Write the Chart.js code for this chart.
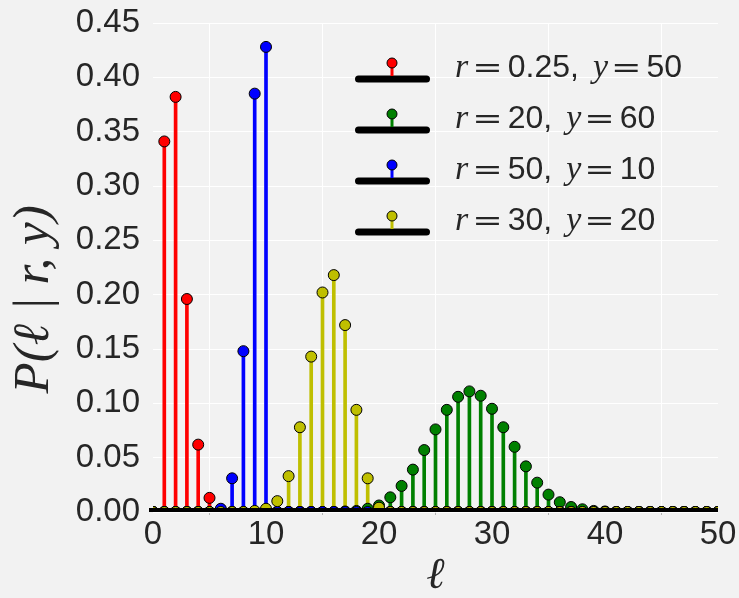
<!DOCTYPE html>
<html>
<head>
<meta charset="utf-8">
<script src="https://cdn.jsdelivr.net/npm/chart.js@4.4.1/dist/chart.umd.min.js"></script>
<style>
  html, body { margin: 0; padding: 0; background: #f2f2f2; }
  canvas { display: block; }
</style>
</head>
<body>
<canvas id="canvas" width="739" height="598"></canvas>
<script>
// ell = 0..50
const ells = [
  0, 1, 2, 3, 4, 5, 6, 7, 8, 9,
  10, 11, 12, 13, 14, 15, 16, 17, 18, 19,
  20, 21, 22, 23, 24, 25, 26, 27, 28, 29,
  30, 31, 32, 33, 34, 35, 36, 37, 38, 39,
  40, 41, 42, 43, 44, 45, 46, 47, 48, 49, 50
];

// r = 0.25, y = 50
const pRed = [
  0, 0.341, 0.382, 0.196, 0.062, 0.013, 0.002, 0, 0, 0,
  0, 0, 0, 0, 0, 0, 0, 0, 0, 0,
  0, 0, 0, 0, 0, 0, 0, 0, 0, 0,
  0, 0, 0, 0, 0, 0, 0, 0, 0, 0,
  0, 0, 0, 0, 0, 0, 0, 0, 0, 0, 0
];

// r = 20, y = 60
const pGreen = [
  0, 0, 0, 0, 0, 0, 0, 0, 0, 0,
  0, 0, 0, 0, 0, 0, 0, 0.0005, 0.001, 0.003,
  0.006, 0.0135, 0.024, 0.039, 0.057, 0.076, 0.094, 0.106, 0.111, 0.107,
  0.095, 0.078, 0.060, 0.042, 0.027, 0.016, 0.009, 0.0046, 0.0025, 0.001,
  0.0005, 0, 0, 0, 0, 0, 0, 0, 0, 0, 0
];

// r = 50, y = 10
const pBlue = [
  0, 0, 0, 0, 0, 0, 0.003, 0.031, 0.148, 0.385,
  0.428, 0, 0, 0, 0, 0, 0, 0, 0, 0,
  0, 0, 0, 0, 0, 0, 0, 0, 0, 0,
  0, 0, 0, 0, 0, 0, 0, 0, 0, 0,
  0, 0, 0, 0, 0, 0, 0, 0, 0, 0, 0
];

// r = 30, y = 20
const pYellow = [
  0, 0, 0, 0, 0, 0, 0, 0, 0, 0.001,
  0.003, 0.010, 0.033, 0.078, 0.143, 0.202, 0.218, 0.172, 0.094, 0.031,
  0.004, 0, 0, 0, 0, 0, 0, 0, 0, 0,
  0, 0, 0, 0, 0, 0, 0, 0, 0, 0,
  0, 0, 0, 0, 0, 0, 0, 0, 0, 0, 0
];

const rLabels = ['0.25', '20', '50', '30'];
const yLabels = ['50', '60', '10', '20'];
const colors = ['#ff0000', '#008000', '#0000ff', '#bfbf00'];
const allSeries = [pRed, pGreen, pBlue, pYellow];

const textColor = '#262626';
const sansFont = "'Liberation Sans', Arial, sans-serif";
const serifFont = "'Liberation Serif', 'DejaVu Serif', serif";

function points(values) {
  return ells.map((l, i) => ({ x: l, y: values[i] }));
}

const datasets = [];

// stems
allSeries.forEach((vals, i) => {
  datasets.push({
    type: 'bar',
    data: points(vals),
    backgroundColor: colors[i],
    borderWidth: 0,
    barThickness: 3,
    grouped: false,
    order: 10
  });
});

// markers, yellow ends up on top
allSeries.forEach((vals, i) => {
  datasets.push({
    type: 'scatter',
    data: points(vals),
    backgroundColor: colors[i],
    borderColor: '#000000',
    borderWidth: 1,
    pointRadius: 5.5,
    pointHoverRadius: 5.5,
    clip: 0,
    order: 4 - i
  });
});

// thick black baseline
datasets.push({
  type: 'line',
  data: [{ x: ells[0], y: 0 }, { x: ells[ells.length - 1], y: 0 }],
  borderColor: '#000000',
  borderWidth: 8,
  borderCapStyle: 'square',
  pointRadius: 0,
  clip: { left: 5, top: 0, right: 0, bottom: 0 },
  order: 0
});

// legend drawn by hand: thick line + stem + marker, then mixed math text
const stemLegend = {
  id: 'stemLegend',
  afterDraw(chart) {
    const ctx = chart.ctx;
    const area = chart.chartArea;
    ctx.save();
    rLabels.forEach((r, i) => {
      const lineY = area.top + 56 + i * 51;
      const x0 = area.left + 202;
      const x1 = area.left + 277;
      const mx = area.left + 239;

      ctx.strokeStyle = '#000000';
      ctx.lineWidth = 7;
      ctx.lineCap = 'round';
      ctx.beginPath();
      ctx.moveTo(x0 + 3.5, lineY);
      ctx.lineTo(x1 - 3.5, lineY);
      ctx.stroke();

      ctx.strokeStyle = colors[i];
      ctx.lineWidth = 3;
      ctx.lineCap = 'butt';
      ctx.beginPath();
      ctx.moveTo(mx, lineY - 3);
      ctx.lineTo(mx, lineY - 16);
      ctx.stroke();

      ctx.fillStyle = colors[i];
      ctx.strokeStyle = '#000000';
      ctx.lineWidth = 1;
      ctx.beginPath();
      ctx.arc(mx, lineY - 16, 5, 0, Math.PI * 2);
      ctx.fill();
      ctx.stroke();

      // s = horizontal stretch, the math "=" is long and thin
      const parts = [
        { t: 'r', f: 'italic 34px ' + serifFont, g: 4, s: 1 },
        { t: '=', f: '28px DejaVu Sans', g: 5, s: 1.3 },
        { t: r + ',', f: '32px ' + sansFont, g: 14, s: 1 },
        { t: 'y', f: 'italic 34px ' + serifFont, g: 3, s: 1 },
        { t: '=', f: '28px DejaVu Sans', g: 5, s: 1.3 },
        { t: yLabels[i], f: '32px ' + sansFont, g: 0, s: 1 }
      ];
      let x = area.left + 302;
      ctx.fillStyle = textColor;
      ctx.textBaseline = 'alphabetic';
      ctx.textAlign = 'left';
      parts.forEach(p => {
        ctx.font = p.f;
        ctx.save();
        ctx.translate(x, lineY - 2);
        ctx.scale(p.s, 1);
        ctx.fillText(p.t, 0, 0);
        ctx.restore();
        x += ctx.measureText(p.t).width * p.s + p.g;
      });
    });
    ctx.restore();
  }
};

const ctx = document.getElementById('canvas').getContext('2d');
const chart = new Chart(ctx, {
  type: 'scatter',
  data: { datasets: datasets },
  plugins: [stemLegend],
  options: {
    responsive: false,
    animation: false,
    events: [],
    layout: { padding: { top: 23, right: 21, left: 0, bottom: 0 } },
    plugins: {
      legend: { display: false },
      tooltip: { enabled: false }
    },
    scales: {
      x: {
        type: 'linear',
        min: 0,
        max: 50,
        offset: false,
        afterFit(scale) { scale.height = 86; },
        ticks: {
          stepSize: 10,
          color: textColor,
          padding: 0,
          maxRotation: 0,
          font: { family: sansFont, size: 33 }
        },
        grid: { color: '#ffffff', lineWidth: 1, tickLength: 3, tickColor: 'rgba(0,0,0,0.25)' },
        border: { display: false },
        title: {
          display: true,
          text: 'ℓ',
          color: textColor,
          padding: { top: 0, bottom: -5 },
          font: { family: serifFont, style: 'italic', size: 44 }
        }
      },
      y: {
        type: 'linear',
        min: 0,
        max: 0.45,
        afterFit(scale) { scale.width = 153; },
        ticks: {
          stepSize: 0.05,
          color: textColor,
          padding: 2,
          font: { family: sansFont, size: 33 },
          callback: (v) => v.toFixed(2)
        },
        grid: { color: '#ffffff', lineWidth: 1, tickLength: 11, tickColor: 'rgba(0,0,0,0)' },
        border: { display: false },
        title: {
          display: true,
          text: 'P(ℓ | r, y)\u00a0\u00a0\u00a0\u00a0\u00a0',
          color: textColor,
          padding: { top: 4, bottom: 0 },
          font: { family: serifFont, style: 'italic', size: 51 }
        }
      }
    }
  }
});
</script>
</body>
</html>
